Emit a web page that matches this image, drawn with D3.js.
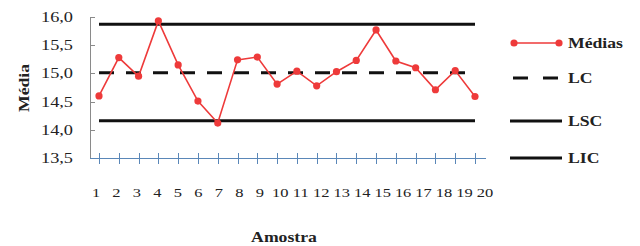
<!DOCTYPE html>
<html>
<head>
<meta charset="utf-8">
<script src="https://cdn.jsdelivr.net/npm/d3@7"></script>
<style>
  body { margin: 0; background: #fff; }
  text { font-family: "Liberation Serif", "Times New Roman", serif; fill: #222; }
</style>
</head>
<body>
<svg id="chart"></svg>
<script>
const width = 640;
const height = 246;
const svg = d3.select('#chart').attr('width', width).attr('height', height);

// data
const amostras = d3.range(1, 21);
const medias = [14.60, 15.28, 14.95, 15.93, 15.15, 14.51, 14.12, 15.24, 15.29, 14.81,
                15.04, 14.78, 15.03, 15.23, 15.77, 15.22, 15.10, 14.71, 15.05, 14.59];
const LC = 15.01;
const LSC = 15.87;
const LIC = 14.16;
const yTicks = [13.5, 14.0, 14.5, 15.0, 15.5, 16.0];
const legendItems = ['Médias', 'LC', 'LSC', 'LIC'];

const red = '#ee3a3a';
const stretch = 1.22; // the picture's text is a bit wide

const x = d3.scaleLinear().domain([1, 20]).range([99, 475]);
const xLab = d3.scalePoint().domain(amostras).range([96, 485]);
const y = d3.scaleLinear().domain([13.5, 16]).range([158, 17]);

const fmt = d => d.toFixed(1).replace('.', ',');

const wideText = (g, tx, ty, str, size, anchor, weight) =>
  g.append('text')
    .attr('transform', `translate(${tx},${ty}) scale(${stretch},1)`)
    .attr('text-anchor', anchor)
    .attr('dominant-baseline', 'central')
    .style('font-size', size + 'px')
    .style('font-weight', weight || 'normal')
    .text(str);

// y axis
const yg = svg.append('g');
yg.append('line')
  .attr('x1', 90.5).attr('x2', 90.5)
  .attr('y1', y(16)).attr('y2', y(13.5))
  .attr('stroke', '#8a8a8a').attr('stroke-width', 1);
yTicks.forEach(t => {
  yg.append('line')
    .attr('x1', 90.5).attr('x2', 95)
    .attr('y1', Math.round(y(t)) + 0.5).attr('y2', Math.round(y(t)) + 0.5)
    .attr('stroke', '#8a8a8a');
  wideText(yg, 73, y(t), fmt(t), 15, 'end');
});

// x axis (blue)
const xg = svg.append('g');
xg.append('line')
  .attr('x1', 90).attr('x2', 486)
  .attr('y1', 158.5).attr('y2', 158.5)
  .attr('stroke', '#5a87b8').attr('stroke-width', 1);
amostras.forEach(a => {
  xg.append('line')
    .attr('x1', Math.round(x(a)) + 0.5).attr('x2', Math.round(x(a)) + 0.5)
    .attr('y1', 153).attr('y2', 164)
    .attr('stroke', '#5a87b8');
  wideText(xg, xLab(a), 193, a, 13.5, 'middle');
});

// control lines
const limits = [
  { v: LSC, dash: null },
  { v: LC, dash: '15,12' },
  { v: LIC, dash: null }
];
limits.forEach(l => {
  svg.append('line')
    .attr('x1', x(1)).attr('x2', x(20))
    .attr('y1', y(l.v)).attr('y2', y(l.v))
    .attr('stroke', '#111').attr('stroke-width', 3)
    .attr('stroke-dasharray', l.dash);
});

// means series
const line = d3.line().x((d, i) => x(amostras[i])).y(d => y(d));
svg.append('path')
  .datum(medias)
  .attr('d', line)
  .attr('fill', 'none')
  .attr('stroke', red)
  .attr('stroke-width', 1.6);
svg.selectAll('.pt')
  .data(medias)
  .enter()
  .append('circle')
  .attr('class', 'pt')
  .attr('cx', (d, i) => x(amostras[i]))
  .attr('cy', d => y(d))
  .attr('r', 3.6)
  .attr('fill', red);

// axis titles
wideText(svg, 284, 237, 'Amostra', 14.5, 'middle', 'bold');
svg.append('text')
  .attr('transform', `translate(24,88) rotate(-90) scale(${stretch},1)`)
  .attr('text-anchor', 'middle')
  .attr('dominant-baseline', 'central')
  .style('font-size', '14.5px')
  .style('font-weight', 'bold')
  .text('Média');

// legend
const lg = svg.append('g');
const legY = [43, 78, 121, 158];
legendItems.forEach((name, i) => {
  const ly = legY[i];
  if (i === 0) {
    lg.append('line')
      .attr('x1', 514).attr('x2', 559).attr('y1', ly).attr('y2', ly)
      .attr('stroke', red).attr('stroke-width', 1.6);
    [514, 559].forEach(cx => lg.append('circle').attr('cx', cx).attr('cy', ly).attr('r', 3.6).attr('fill', red));
  } else if (i === 1) {
    lg.append('line')
      .attr('x1', 513).attr('x2', 559).attr('y1', ly).attr('y2', ly)
      .attr('stroke', '#111').attr('stroke-width', 3)
      .attr('stroke-dasharray', '15,15');
  } else {
    lg.append('line')
      .attr('x1', 510).attr('x2', 562).attr('y1', ly).attr('y2', ly)
      .attr('stroke', '#111').attr('stroke-width', 3);
  }
  wideText(lg, 568, ly, name, 14.5, 'start', 'bold');
});
</script>
</body>
</html>
